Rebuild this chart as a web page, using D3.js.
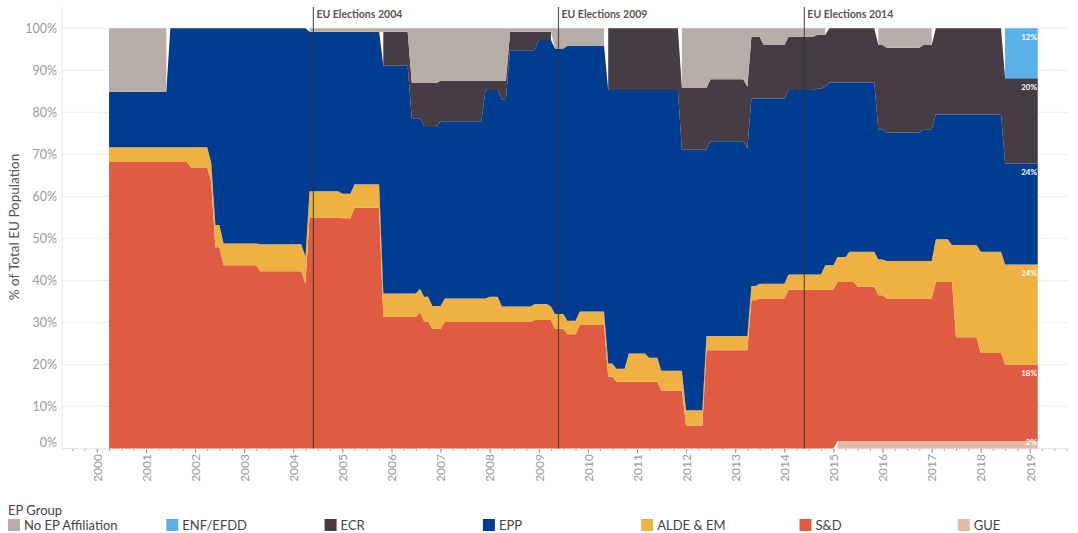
<!DOCTYPE html>
<html>
<head>
<meta charset="utf-8">
<script src="https://cdn.jsdelivr.net/npm/d3@7"></script>
<style>
  body { margin: 0; background: #fff; font-family: Lato, "Open Sans", sans-serif; }
</style>
</head>
<body>
<svg id="chart" width="1078" height="533"></svg>
<script>
// month at which a new mix of governing groups takes effect; values hold until the next change
const changeMonths = [
  "2000-04", "2001-07", "2001-12", "2002-05", "2002-06", "2002-08", "2003-05", "2004-04",
  "2004-05", "2005-01", "2005-04", "2005-11", "2006-06", "2006-08", "2006-09", "2006-11",
  "2007-01", "2007-02", "2007-12", "2008-01", "2008-04", "2008-06", "2008-12", "2009-01",
  "2009-04", "2009-05", "2009-08", "2009-11", "2010-06", "2010-08", "2010-11", "2011-04",
  "2011-07", "2011-12", "2012-01", "2012-06", "2012-07", "2013-04", "2013-05", "2013-07",
  "2013-08", "2014-02", "2014-09", "2014-11", "2014-12", "2015-02", "2015-05", "2015-07",
  "2015-12", "2016-02", "2016-11", "2017-02", "2017-06", "2017-07", "2018-01", "2018-07"
];
const lastMonth = "2019-03";

// % of total EU population, per EP group
const gue = [
  0, 0, 0, 0, 0, 0, 0, 0,
  0, 0, 0, 0, 0, 0, 0, 0,
  0, 0, 0, 0, 0, 0, 0, 0,
  0, 0, 0, 0, 0, 0, 0, 0,
  0, 0, 0, 0, 0, 0, 0, 0,
  0, 0, 0, 0, 0, 1.8, 1.8, 1.8,
  1.8, 1.8, 1.8, 1.8, 1.8, 1.8, 1.8, 1.8
];
const sd = [
  68.2, 68.2, 66.9, 63.5, 47.9, 43.6, 42.2, 39.2,
  55.0, 54.8, 57.3, 31.3, 31.3, 32.4, 30.2, 28.5,
  28.5, 30.1, 30.1, 30.1, 30.1, 30.1, 30.6, 30.6,
  30.6, 28.5, 27.2, 29.4, 17.1, 15.9, 15.9, 15.9,
  13.8, 13.8, 5.5, 23.4, 23.4, 23.4, 35.3, 35.7,
  35.7, 37.8, 37.8, 37.8, 37.8, 37.8, 37.8, 36.7,
  34.7, 33.9, 33.9, 37.8, 37.8, 24.7, 20.9, 18.2
];
const alde = [
  3.5, 3.5, 4.8, 4.5, 5.3, 5.2, 6.4, 6.4,
  6.2, 5.8, 5.6, 5.6, 5.6, 5.6, 5.9, 5.4,
  5.4, 5.6, 5.6, 6.0, 3.7, 3.7, 3.8, 3.8,
  3.2, 3.5, 3.2, 3.2, 3.1, 3.1, 6.7, 5.7,
  4.7, 4.7, 3.6, 3.4, 3.4, 3.4, 3.4, 3.5,
  3.5, 3.6, 3.6, 5.8, 5.8, 6.0, 7.2, 8.3,
  8.5, 8.9, 8.9, 10.2, 8.8, 21.9, 24.1, 23.8
];
const epp = [
  13.2, 28.3, 28.3, 32.0, 46.8, 51.2, 51.4, 54.4,
  38.0, 38.6, 36.3, 54.2, 41.7, 40.6, 40.4, 42.6,
  44.0, 42.2, 49.6, 49.2, 49.3, 61.0, 60.4, 62.8,
  63.4, 63.2, 65.4, 63.2, 65.1, 66.3, 62.7, 63.7,
  66.8, 52.6, 62.0, 44.3, 46.3, 44.6, 44.6, 44.1,
  44.1, 43.9, 44.2, 42.5, 43.5, 41.5, 40.3, 40.3,
  31.0, 30.6, 31.4, 29.7, 31.1, 31.1, 32.7, 24.0
];
const ecr = [
  0, 0, 0, 0, 0, 0, 0, 0,
  0, 0, 0, 8.1, 8.4, 8.4, 10.5, 10.5,
  9.6, 9.6, 2.2, 2.2, 4.4, 4.4, 4.4, 2.0,
  2.0, 0, 0, 0, 14.7, 14.7, 14.7, 14.7,
  14.7, 14.7, 14.7, 14.7, 14.8, 14.7, 14.7, 14.7,
  12.7, 12.7, 12.8, 12.3, 12.9, 12.9, 12.9, 12.9,
  20.0, 20.2, 20.0, 20.5, 20.5, 20.5, 20.5, 20.3
];
const enf = [
  0, 0, 0, 0, 0, 0, 0, 0,
  0, 0, 0, 0, 0, 0, 0, 0,
  0, 0, 0, 0, 0, 0, 0, 0,
  0, 0, 0, 0, 0, 0, 0, 0,
  0, 0, 0, 0, 0, 0, 0, 0,
  0, 0, 0, 0, 0, 0, 0, 0,
  0, 0, 0, 0, 0, 0, 0, 11.9
];
const noAffiliation = [
  15.1, 0, 0, 0, 0, 0, 0, 0,
  0.8, 0.8, 0.8, 0.8, 13.0, 13.0, 13.0, 13.0,
  12.5, 12.5, 12.5, 12.5, 12.5, 0.8, 0.8, 0.8,
  0.8, 4.8, 4.2, 4.2, 0, 0, 0, 0,
  0, 14.2, 14.2, 14.2, 12.1, 13.9, 2.0, 2.0,
  4.0, 2.0, 1.6, 1.6, 0, 0, 0, 0,
  4.0, 4.6, 4.0, 0, 0, 0, 0, 0
];

const groupKeys = ["gue", "sd", "alde", "epp", "ecr", "enf", "none"];
const groupNames = {
  none: "No EP Affiliation", enf: "ENF/EFDD", ecr: "ECR", epp: "EPP",
  alde: "ALDE & EM", sd: "S&D", gue: "GUE"
};
const groupColors = {
  none: "#b7aea9", enf: "#5ab0e8", ecr: "#463c43", epp: "#003d91",
  alde: "#efb142", sd: "#df5c43", gue: "#e4bba8"
};
const legendOrder = ["none", "enf", "ecr", "epp", "alde", "sd", "gue"];

const elections = [
  { label: "EU Elections 2004", date: "2004-05-30" },
  { label: "EU Elections 2009", date: "2009-05-27" },
  { label: "EU Elections 2014", date: "2014-05-30" }
];
const yTicks = [0, 10, 20, 30, 40, 50, 60, 70, 80, 90, 100];

const svg = d3.select("#chart");
const parseMonth = d3.timeParse("%Y-%m");
const parseDay = d3.timeParse("%Y-%m-%d");

const seriesValues = { gue, sd, alde, epp, ecr, enf, none: noAffiliation };

// monthly rows: each month carries the latest change
const rows = [];
let k = 0;
for (let t = parseMonth(changeMonths[0]); t <= parseMonth(lastMonth); t = d3.timeMonth.offset(t, 1)) {
    while (k + 1 < changeMonths.length && parseMonth(changeMonths[k + 1]) <= t) k++;
    const row = { date: t };
    groupKeys.forEach(key => row[key] = seriesValues[key][k]);
    rows.push(row);
}

const x = d3.scaleTime()
    .domain([new Date(1999, 3, 17), new Date(2019, 9, 12)])
    .range([62, 1068]);
const y = d3.scaleLinear().domain([0, 100]).range([448.5, 28.3]);

// gridlines
svg.append("g")
    .selectAll("line")
    .data(yTicks)
    .enter().append("line")
    .attr("x1", 62).attr("x2", 1068)
    .attr("y1", d => y(d)).attr("y2", d => y(d))
    .attr("stroke", "#ececec");

svg.append("line")
    .attr("x1", 62).attr("x2", 62)
    .attr("y1", 7).attr("y2", 448.5)
    .attr("stroke", "#e6e6e6");

// stacked areas
const layers = d3.stack().keys(groupKeys)(rows);
const area = d3.area()
    .defined(d => d[1] - d[0] > 0.01)
    .x(d => x(d.data.date))
    .y0(d => y(d[0]))
    .y1(d => y(d[1]));

svg.append("g")
    .selectAll("path")
    .data(layers)
    .enter().append("path")
    .attr("d", area)
    .attr("fill", d => groupColors[d.key]);

// y axis labels
svg.append("g")
    .selectAll("text")
    .data(yTicks)
    .enter().append("text")
    .attr("x", 57)
    .attr("y", d => d === 0 ? y(d) - 6 : y(d))
    .attr("dy", "0.35em")
    .attr("text-anchor", "end")
    .attr("font-size", 12.5)
    .attr("fill", "#9a9a9a")
    .text(d => d + "%");

svg.append("text")
    .attr("transform", "translate(19,227) rotate(-90)")
    .attr("text-anchor", "middle")
    .attr("font-size", 13.5)
    .attr("fill", "#555")
    .text("% of Total EU Population");

// x axis
svg.append("line")
    .attr("x1", 62).attr("x2", 1068)
    .attr("y1", 449).attr("y2", 449)
    .attr("stroke", "#d0d0d0")
    .attr("stroke-dasharray", "1,2");

const minorAxis = d3.axisBottom(x)
    .ticks(d3.timeMonth.every(3))
    .tickSize(2)
    .tickFormat("");
const gMinor = svg.append("g").attr("transform", "translate(0,449)").call(minorAxis);
gMinor.select(".domain").remove();
gMinor.selectAll("line").attr("stroke", "#aaa");

const majorAxis = d3.axisBottom(x)
    .ticks(d3.timeYear.every(1))
    .tickSize(4)
    .tickFormat(d3.timeFormat("%Y"));
const gMajor = svg.append("g").attr("transform", "translate(0,449)").call(majorAxis);
gMajor.select(".domain").remove();
gMajor.selectAll("line").attr("stroke", "#999");
gMajor.selectAll("text")
    .attr("font-family", "Lato, sans-serif")
    .attr("font-size", 12)
    .attr("fill", "#9a9a9a")
    .attr("text-anchor", "end")
    .attr("transform", "translate(0,5) rotate(-90)")
    .attr("x", 0).attr("y", 0)
    .attr("dx", 0).attr("dy", "0.35em");

// election markers
const eg = svg.append("g")
    .selectAll("g")
    .data(elections)
    .enter().append("g")
    .attr("transform", d => `translate(${x(parseDay(d.date))},0)`);
eg.append("line")
    .attr("y1", 7).attr("y2", 448.5)
    .attr("stroke", "#333")
    .attr("stroke-opacity", 0.8)
    .attr("stroke-width", 1.2);
eg.append("text")
    .attr("x", 3).attr("y", 17.5)
    .attr("font-size", 10.5)
    .attr("font-weight", 700)
    .attr("fill", "#555")
    .text(d => d.label);

// end-of-series labels
const endLabels = layers
    .map(layer => ({ key: layer.key, top: layer[layer.length - 1][1], value: layer[layer.length - 1].data[layer.key] }))
    .filter(d => d.value > 0);
svg.append("g")
    .selectAll("text")
    .data(endLabels)
    .enter().append("text")
    .attr("x", 1037)
    .attr("y", d => Math.min(y(d.top) + 11.5, y(0) - 3.5))
    .attr("text-anchor", "end")
    .attr("font-size", 8)
    .attr("font-weight", 700)
    .attr("fill", "#fff")
    .text(d => Math.round(d.value) + "%");

// legend
svg.append("text")
    .attr("x", 8).attr("y", 514.5)
    .attr("font-size", 13)
    .attr("fill", "#444")
    .text("EP Group");

const legend = svg.append("g")
    .selectAll("g")
    .data(legendOrder)
    .enter().append("g")
    .attr("transform", (d, i) => `translate(${8 + i * 158.3},519)`);
legend.append("rect")
    .attr("width", 12).attr("height", 12)
    .attr("fill", d => groupColors[d]);
legend.append("text")
    .attr("x", 16).attr("y", 11)
    .attr("font-size", 13)
    .attr("fill", "#444")
    .text(d => groupNames[d]);
</script>
</body>
</html>
